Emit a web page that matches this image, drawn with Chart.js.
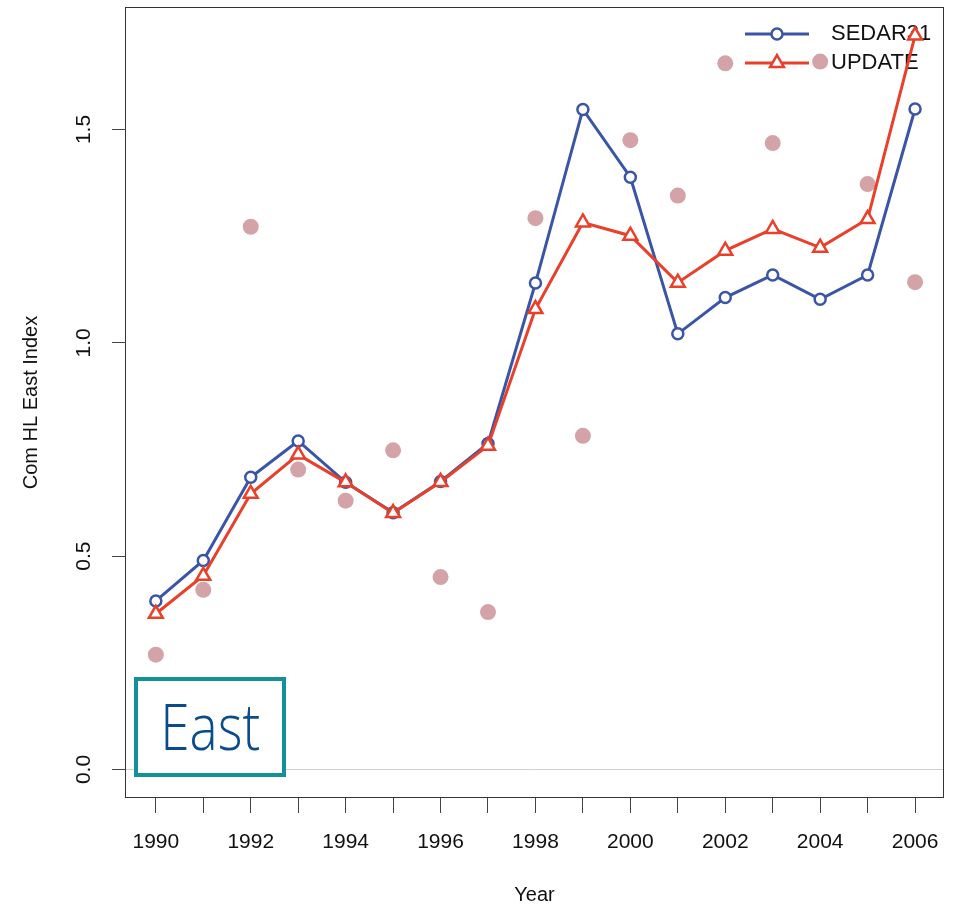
<!DOCTYPE html>
<html>
<head>
<meta charset="utf-8">
<script src="https://cdn.jsdelivr.net/npm/chart.js@4/dist/chart.umd.min.js"></script>
<style>
html, body { margin: 0; padding: 0; background: #ffffff; }
#wrap { position: relative; width: 956px; height: 906px; }
#c { display: block; }
#east {
  position: absolute; left: 134px; top: 677px; width: 144px; height: 92px;
  border: 4px solid #14909b; background: #ffffff; color: #0a4b8c;
  text-align: center; overflow: hidden;
}
#east span {
  display: inline-block;
  font-family: 'Open Sans', 'Liberation Sans', sans-serif; font-weight: 300;
  font-size: 64px; line-height: 90px;
  transform: scaleX(0.83); transform-origin: 50% 50%;
}
</style>
</head>
<body>
<div id="wrap">
  <canvas id="c" width="956" height="906"></canvas>
  <div id="east"><span>East</span></div>
</div>
<script>
// ---- data ----
const years = [1990, 1991, 1992, 1993, 1994, 1995, 1996, 1997, 1998, 1999, 2000, 2001, 2002, 2003, 2004, 2005, 2006];
const sedar31 = [0.395, 0.490, 0.685, 0.770, 0.673, 0.602, 0.675, 0.764, 1.140, 1.547, 1.388, 1.021, 1.106, 1.159, 1.102, 1.159, 1.548];
const updateIdx = [0.365, 0.454, 0.646, 0.738, 0.673, 0.601, 0.674, 0.759, 1.079, 1.282, 1.251, 1.141, 1.216, 1.267, 1.223, 1.290, 1.720];
const observed = [0.269, 0.421, 1.272, 0.703, 0.630, 0.748, 0.451, 0.369, 1.292, 0.782, 1.475, 1.345, 1.655, 1.468, 1.659, 1.372, 1.142];
const xTickLabels = ['1990', '', '1992', '', '1994', '', '1996', '', '1998', '', '2000', '', '2002', '', '2004', '', '2006'];
const yTickValues = [0, 0.5, 1.0, 1.5];
const yTickLabels = ['0.0', '0.5', '1.0', '1.5'];
const seriesNames = ['SEDAR31', 'UPDATE'];

const BLUE = '#3a55a6';
const RED = '#e8402a';
const DOT = '#d4a3a7';

const toPts = arr => arr.map((v, i) => ({ x: years[i], y: v }));

function markerImage(color, style) {
  const c = document.createElement('canvas');
  c.width = 76; c.height = 22;
  const g = c.getContext('2d');
  g.strokeStyle = color; g.lineWidth = 3;
  g.beginPath(); g.moveTo(1, 11); g.lineTo(65, 11); g.stroke();
  g.fillStyle = '#ffffff'; g.lineWidth = 2.5;
  g.beginPath();
  if (style === 'circle') {
    g.arc(33, 11, 5.5, 0, Math.PI * 2);
  } else {
    const r = 8;
    g.moveTo(33, 11 - r);
    g.lineTo(33 + r * Math.sin(2 * Math.PI / 3), 11 - r * Math.cos(2 * Math.PI / 3));
    g.lineTo(33 + r * Math.sin(4 * Math.PI / 3), 11 - r * Math.cos(4 * Math.PI / 3));
    g.closePath();
  }
  g.fill(); g.stroke();
  return c;
}
const legendImgs = [markerImage(BLUE, 'circle'), markerImage(RED, 'triangle')];

const boxPlugin = {
  id: 'plotBox',
  beforeDatasetsDraw(chart) {
    const { left, top, right, bottom } = chart.chartArea;
    const ctx = chart.ctx;
    ctx.save();
    ctx.strokeStyle = '#333333';
    ctx.lineWidth = 1;
    ctx.strokeRect(left + 0.5, top + 0.5, right - left - 1, bottom - top - 1);
    ctx.restore();
  }
};

const legendPlace = {
  id: 'legendPlace',
  beforeDraw(chart) {
    const lg = chart.legend;
    if (lg) { lg.left = 737; lg.top = 16; }
  }
};

Chart.defaults.font.family = "'Liberation Sans', Arial, sans-serif";
Chart.defaults.color = '#111111';

new Chart(document.getElementById('c'), {
  type: 'line',
  data: {
    datasets: [
      {
        label: seriesNames[0], data: toPts(sedar31), order: 1,
        borderColor: BLUE, borderWidth: 3, backgroundColor: '#ffffff',
        pointStyle: 'circle', pointRadius: 5.5, pointBorderWidth: 2.5,
        pointBackgroundColor: '#ffffff', pointBorderColor: BLUE, tension: 0
      },
      {
        label: seriesNames[1], data: toPts(updateIdx), order: 0,
        borderColor: RED, borderWidth: 3, backgroundColor: '#ffffff',
        pointStyle: 'triangle', pointRadius: 8, pointBorderWidth: 2.5,
        pointBackgroundColor: '#ffffff', pointBorderColor: RED, tension: 0
      },
      {
        label: 'observed', data: toPts(observed), order: 2, showLine: false,
        pointStyle: 'circle', pointRadius: 8, pointBorderWidth: 0,
        pointBackgroundColor: DOT, pointBorderColor: DOT, backgroundColor: DOT
      }
    ]
  },
  options: {
    responsive: false,
    animation: false,
    events: [],
    layout: { autoPadding: false, padding: { left: 0, top: 7, right: 12, bottom: 0 } },
    plugins: {
      tooltip: { enabled: false },
      legend: {
        position: 'chartArea',
        align: 'start',
        labels: {
          usePointStyle: true,
          pointStyleWidth: 76,
          boxHeight: 22,
          padding: 7,
          color: '#111111',
          font: { size: 22 },
          generateLabels: () => seriesNames.map((n, i) => ({
            text: n, pointStyle: legendImgs[i], fillStyle: 'rgba(0,0,0,0)',
            strokeStyle: 'rgba(0,0,0,0)', lineWidth: 0, hidden: false, datasetIndex: i,
            fontColor: '#111111'
          }))
        }
      }
    },
    scales: {
      x: {
        type: 'linear',
        position: 'bottom',
        min: 1989.35,
        max: 2006.61,
        afterBuildTicks: s => { s.ticks = years.map(v => ({ value: v })); },
        afterFit: s => { s.height = 108; s.paddingLeft = 0; s.paddingRight = 0; },
        border: { display: false },
        grid: { drawOnChartArea: false, drawTicks: true, tickLength: 15, tickColor: '#444444', lineWidth: 1 },
        ticks: {
          autoSkip: false, maxRotation: 0, minRotation: 0, padding: 17,
          font: { size: 21 }, color: '#111111',
          callback: (v) => { const i = years.indexOf(v); return i >= 0 ? xTickLabels[i] : ''; }
        },
        title: { display: true, text: 'Year', font: { size: 20 }, color: '#111111', padding: { top: 0, bottom: -1 } }
      },
      y: {
        type: 'linear',
        position: 'left',
        min: -0.0668,
        max: 1.787,
        afterBuildTicks: s => { s.ticks = yTickValues.map(v => ({ value: v })); },
        afterFit: s => { s.width = 125; s.paddingTop = 0; s.paddingBottom = 0; },
        border: { display: false },
        grid: {
          drawOnChartArea: true, drawTicks: true, tickLength: 13, tickColor: '#444444', lineWidth: 1,
          color: (c) => (c.tick && c.tick.value === 0) ? '#cfcfcf' : 'rgba(0,0,0,0)'
        },
        ticks: {
          minRotation: 90, maxRotation: 90, crossAlign: 'center', padding: 13,
          font: { size: 21 }, color: '#111111',
          callback: (v) => { const i = yTickValues.indexOf(v); return i >= 0 ? yTickLabels[i] : ''; }
        },
        title: { display: true, text: 'Com HL East Index', font: { size: 20 }, color: '#111111', padding: { top: 19, bottom: 0 } }
      }
    }
  },
  plugins: [boxPlugin, legendPlace]
});
</script>
</body>
</html>
